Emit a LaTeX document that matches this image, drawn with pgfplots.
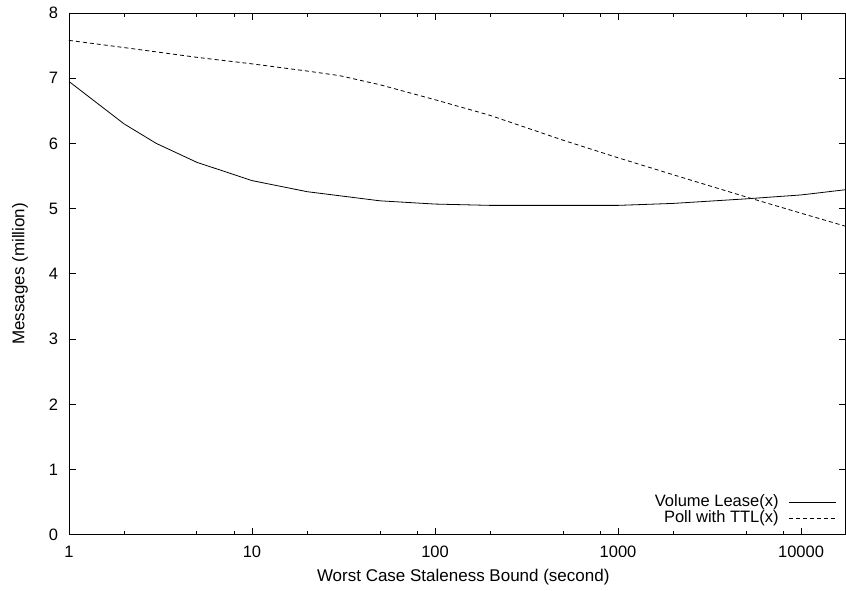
\documentclass[border=0pt]{standalone}
\usepackage{pgfplots}
\pgfplotsset{compat=1.18}
\usepackage{fontspec}
\setmainfont{Liberation Sans}
\begin{document}
\fontsize{17bp}{20bp}\selectfont
\begin{tikzpicture}
\begin{axis}[
  scale only axis,
  width=777bp, height=522bp,
  xmode=log, log basis x=10,
  xmin=1, xmax=17500, ymin=0, ymax=8,
  xtick={1,10,100,1000,10000},
  xticklabels={1,10,100,1000,10000},
  minor xtick={2,5,8,20,50,80,200,500,800,2000,5000,8000},
  ytick={0,1,2,3,4,5,6,7,8},
  /pgf/number format/assume math mode=true,
  tick align=inside,
  major tick length=7bp, minor tick length=4bp,
  every tick/.style={black, line width=0.8bp},
  axis line style={line width=0.9bp},
  tick label style={font=\fontsize{16.5bp}{19bp}\selectfont},
  xticklabel style={anchor=base, yshift=-23.3bp},
  yticklabel style={xshift=-5bp},
  label style={font=\fontsize{17bp}{20bp}\selectfont},
  xlabel={Worst Case Staleness Bound (second)},
  ylabel={Messages (million)},
  xlabel style={at={(axis description cs:0.5077,0)}, anchor=base, yshift=-47bp},
  ylabel style={at={(axis description cs:-0.0631,0.5)}, anchor=center, rotate=0},
  legend style={draw=none, fill=none, inner sep=0pt, at={(rel axis cs:1,0)}, anchor=south east,
    font=\fontsize{16.5bp}{16bp}\selectfont, row sep=0bp, xshift=-9bp, yshift=8bp,
    nodes={inner sep=0bp, text height=11.5bp, text depth=4.5bp}},
  legend cell align=right,
  legend plot pos=right,
  legend image code/.code={\path (0bp,0bp); \draw[#1] (10bp,0bp) -- (57bp,0bp);},
]
\addplot[black, line width=0.8bp] coordinates {
 (1,6.95) (2,6.30) (3,6.00) (5,5.71) (10,5.43) (20,5.26) (50,5.12) (100,5.07)
 (200,5.05) (500,5.05) (1000,5.05) (2000,5.08) (5000,5.15) (10000,5.21) (17500,5.29)
};
\addlegendentry{Volume Lease(x)}
\addplot[black, line width=0.8bp, dash pattern=on 4bp off 3bp] coordinates {
 (1,7.58) (2,7.47) (5,7.32) (10,7.22) (20,7.11) (30,7.04) (50,6.90) (100,6.67)
 (200,6.43) (500,6.05) (1000,5.78) (2000,5.52) (5000,5.18) (10000,4.93) (17500,4.73)
};
\addlegendentry{Poll with TTL(x)}
\end{axis}
\useasboundingbox (current axis.south west) ++(-69bp,-54bp) rectangle ([yshift=13bp]current axis.north east);
\end{tikzpicture}
\end{document}
